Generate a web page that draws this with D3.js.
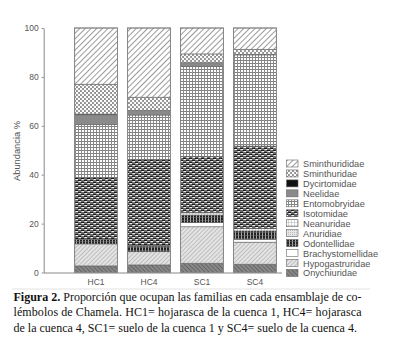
<!DOCTYPE html>
<html><head><meta charset="utf-8">
<script src="https://cdn.jsdelivr.net/npm/d3@7"></script>
<style>body{margin:0;background:#fff}svg{display:block}</style>
</head><body><svg id="c" width="400" height="344"></svg>
<script>
const categories = ["HC1","HC4","SC1","SC4"];
// stacking order bottom -> top
const families = ["Onychiuridae","Hypogastruridae","Brachystomellidae","Odontellidae","Anuridiae","Neanuridae","Isotomidae","Entomobryidae","Neelidae","Dycirtomidae","Sminthuridae","Sminthurididae"];
const Onychiuridae      = [2.7, 3.1, 3.8, 3.4];
const Hypogastruridae   = [9.0, 5.4, 14.9, 9.0];
const Brachystomellidae = [0.0, 0.0, 1.7, 1.2];
const Odontellidae      = [1.9, 2.3, 3.1, 3.4];
const Anuridiae         = [0.0, 0.0, 0.0, 0.0];
const Neanuridae        = [0.0, 0.3, 1.0, 0.9];
const Isotomidae        = [25.3, 35.1, 23.0, 33.8];
const Entomobryidae     = [21.6, 18.2, 36.7, 37.3];
const Neelidae          = [4.0, 1.9, 1.6, 0.0];
const Dycirtomidae      = [0.3, 0.0, 0.0, 0.2];
const Sminthuridae      = [12.2, 5.4, 3.6, 2.1];
const Sminthurididae    = [23.0, 28.3, 10.6, 8.7];
const yTicks = [0,20,40,60,80,100];
const legendOrder = ["Sminthurididae","Sminthuridae","Dycirtomidae","Neelidae","Entomobryidae","Isotomidae","Neanuridae","Anuridiae","Odontellidae","Brachystomellidae","Hypogastruridae","Onychiuridae"];

const series = {Onychiuridae,Hypogastruridae,Brachystomellidae,Odontellidae,Anuridiae,Neanuridae,Isotomidae,Entomobryidae,Neelidae,Dycirtomidae,Sminthuridae,Sminthurididae};
const rows = categories.map((c,i)=>{const r={cat:c}; families.forEach(f=>r[f]=series[f][i]); return r;});

const svg = d3.select("#c");
const defs = svg.append("defs");
function pat(id,w,h,draw,rot){
  const p = defs.append("pattern").attr("id",id).attr("patternUnits","userSpaceOnUse").attr("width",w).attr("height",h);
  if(rot) p.attr("patternTransform","rotate("+rot+")");
  draw(p);
}
pat("p_smd",4,4,p=>{p.append("rect").attr("width",4).attr("height",4).attr("fill","#fff");
  p.append("line").attr("x1",0).attr("y1",0).attr("x2",0).attr("y2",4).attr("stroke","#7a7a7a").attr("stroke-width",1.5);},45);
pat("p_smt",4,4,p=>{p.append("rect").attr("width",4).attr("height",4).attr("fill","#909090");
  p.append("circle").attr("cx",1).attr("cy",1).attr("r",1.2).attr("fill","#fff");
  p.append("circle").attr("cx",3).attr("cy",3).attr("r",1.2).attr("fill","#fff");});
pat("p_ent",3,3,p=>{p.append("rect").attr("width",3).attr("height",3).attr("fill","#fff");
  p.append("rect").attr("width",3).attr("height",1).attr("fill","#808080");
  p.append("rect").attr("width",1).attr("height",3).attr("fill","#8a8a8a");});
pat("p_iso",6,4,p=>{p.append("rect").attr("width",6).attr("height",4).attr("fill","#6a6a6a");
  p.append("rect").attr("x",0).attr("y",0).attr("width",3).attr("height",1).attr("fill","#1a1a1a");
  p.append("rect").attr("x",3).attr("y",2).attr("width",3).attr("height",1).attr("fill","#1a1a1a");
  p.append("rect").attr("x",0.5).attr("y",1).attr("width",2.5).attr("height",1).attr("fill","#f2f2f2");
  p.append("rect").attr("x",3.5).attr("y",3).attr("width",2.5).attr("height",1).attr("fill","#f2f2f2");});
pat("p_nea",3,3,p=>{p.append("rect").attr("width",3).attr("height",3).attr("fill","#fff");
  p.append("rect").attr("width",3).attr("height",0.6).attr("fill","#bbb");
  p.append("rect").attr("width",0.6).attr("height",3).attr("fill","#bbb");});
pat("p_anu",2,2,p=>{p.append("rect").attr("width",2).attr("height",2).attr("fill","#e6e6e6");
  p.append("rect").attr("width",1).attr("height",1).attr("fill","#bbb");});
pat("p_odo",3,3,p=>{p.append("rect").attr("width",3).attr("height",3).attr("fill","#222");
  p.append("rect").attr("x",1).attr("width",0.8).attr("height",3).attr("fill","#ccc");
  p.append("rect").attr("y",1).attr("width",3).attr("height",0.5).attr("fill","#777");});
pat("p_hyp",3,3,p=>{p.append("rect").attr("width",3).attr("height",3).attr("fill","#e4e4e4");
  p.append("line").attr("x1",0).attr("y1",0).attr("x2",0).attr("y2",3).attr("stroke","#999").attr("stroke-width",1);},45);
pat("p_ony",3,3,p=>{p.append("rect").attr("width",3).attr("height",3).attr("fill","#888");
  p.append("line").attr("x1",0).attr("y1",0).attr("x2",0).attr("y2",3).attr("stroke","#444").attr("stroke-width",1);},-45);

const fills = {
  Sminthurididae:"url(#p_smd)", Sminthuridae:"url(#p_smt)", Dycirtomidae:"#111", Neelidae:"#8a8a8a",
  Entomobryidae:"url(#p_ent)", Isotomidae:"url(#p_iso)", Neanuridae:"url(#p_nea)", Anuridiae:"url(#p_anu)",
  Odontellidae:"url(#p_odo)", Brachystomellidae:"#fff", Hypogastruridae:"url(#p_hyp)", Onychiuridae:"url(#p_ony)"
};

const x = d3.scaleBand().domain(categories).range([64,287]).paddingInner(0.19).paddingOuter(0.2);
const y = d3.scaleLinear().domain([0,100]).range([272.5,28]);

const stack = d3.stack().keys(families)(rows);
const g = svg.append("g");
stack.forEach(layer=>{
  g.selectAll(null).data(layer.filter(d=>d[1]-d[0]>0)).enter().append("rect")
    .attr("x",d=>x(d.data.cat)).attr("width",x.bandwidth())
    .attr("y",d=>y(d[1])).attr("height",d=>y(d[0])-y(d[1]))
    .attr("fill",fills[layer.key]).attr("stroke","#666").attr("stroke-width",0.6);
});
// bar outlines
g.selectAll(null).data(categories).enter().append("rect")
  .attr("x",d=>x(d)).attr("width",x.bandwidth()).attr("y",y(100)).attr("height",y(0)-y(100))
  .attr("fill","none").attr("stroke","#888").attr("stroke-width",1);

const sans = "Liberation Sans, Arial, sans-serif";
const narrow = "Liberation Sans Narrow, Arial Narrow, Liberation Sans, sans-serif";
// y axis
const ya = svg.append("g").attr("transform","translate(43.7,0)")
  .call(d3.axisLeft(y).tickValues(yTicks).tickSize(2).tickSizeOuter(0).tickPadding(3));
ya.select(".domain").attr("stroke","#888");
ya.selectAll(".tick line").attr("stroke","#888");
ya.selectAll("text").attr("font-family",sans).attr("font-size",8.5).attr("fill","#555");
// x axis
const xa = svg.append("g").attr("transform","translate(0,272.5)")
  .call(d3.axisBottom(x).tickSize(0).tickPadding(6));
xa.select(".domain").attr("stroke","#888").attr("d","M44,0.5H282");
xa.selectAll("text").attr("font-family",sans).attr("font-size",8.5).attr("fill","#555");

svg.append("text").attr("transform","translate(20,151) rotate(-90)").attr("text-anchor","middle")
  .attr("font-family",sans).attr("font-size",9.3).attr("fill","#555").text("Abundancia %");

// legend
const lg = svg.append("g");
legendOrder.forEach((f,i)=>{
  const yy = 160 + i*9.95;
  lg.append("rect").attr("x",286.5).attr("y",yy).attr("width",11.5).attr("height",7)
    .attr("fill",fills[f]).attr("stroke","#666").attr("stroke-width",0.6);
  lg.append("text").attr("x",303).attr("y",yy+7).attr("font-family",narrow)
    .attr("font-size",9.2).attr("fill","#555").text(f);
});

// separator line
svg.append("line").attr("x1",12).attr("x2",370).attr("y1",289).attr("y2",289).attr("stroke","#e2e2e2");

// caption
const cap = svg.append("g").attr("font-family","Liberation Serif, Times New Roman, serif").attr("font-size",12).attr("fill","#111");
const l1 = cap.append("text").attr("x",13.5).attr("y",301).attr("textLength",348).attr("lengthAdjust","spacing");
l1.append("tspan").attr("font-weight","bold").text("Figura 2.");
l1.append("tspan").text(" Proporción que ocupan las familias en cada ensamblaje de co-");
cap.append("text").attr("x",13.5).attr("y",316.3).attr("textLength",348).attr("lengthAdjust","spacing")
  .text("lémbolos de Chamela. HC1= hojarasca de la cuenca 1, HC4= hojarasca");
cap.append("text").attr("x",13.5).attr("y",331.6)
  .text("de la cuenca 4, SC1= suelo de la cuenca 1 y SC4= suelo de la cuenca 4.");
</script></body></html>
